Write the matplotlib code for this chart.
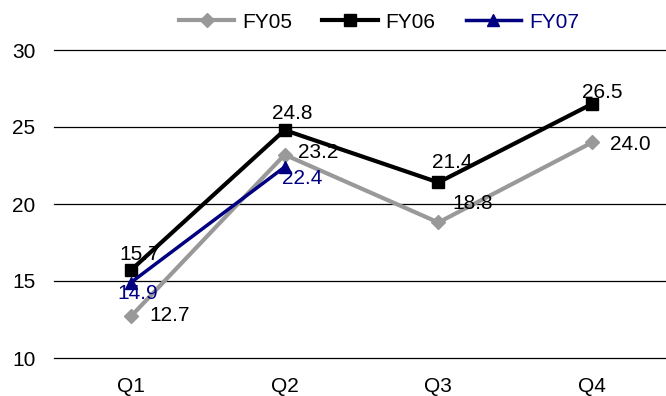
import matplotlib.pyplot as plt

plt.rcParams["font.family"] = ["Liberation Sans", "DejaVu Sans"]

quarters = ["Q1", "Q2", "Q3", "Q4"]
fy05 = [12.7, 23.2, 18.8, 24.0]
fy06 = [15.7, 24.8, 21.4, 26.5]
fy07 = [14.9, 22.4]
y_ticks = [10, 15, 20, 25, 30]

# label nudges in pixels (dx right, dy down) from each point
fy05_off = [(39, -3), (34, -4), (34, -21), (38, 0)]
fy06_off = [(9, -18), (8, -19), (14, -22), (10, -13)]
fy07_off = [(7, 9), (18, 9)]

FS = 15

fig = plt.figure(figsize=(6.66, 3.96), dpi=100)
ax = fig.add_axes([54 / 666, 38 / 396, 615 / 666, 308 / 396])

x = list(range(len(quarters)))
ax.plot(x, fy05, color="#999999", lw=3, marker="D", ms=7.5, label="FY05", zorder=3)
ax.plot(x, fy06, color="black", lw=3, marker="s", ms=8.5, label="FY06", zorder=4)
ax.plot(x[:len(fy07)], fy07, color="#000080", lw=2.5, marker="^", ms=9, label="FY07", zorder=5)


def put_labels(values, offsets, color):
    for i, (v, (dx, dy)) in enumerate(zip(values, offsets)):
        ax.annotate(f"{v:.1f}", (i, v), xytext=(dx, -(dy + 2)), textcoords="offset pixels",
                    ha="center", va="center", fontsize=FS, color=color, zorder=6)


put_labels(fy05, fy05_off, "black")
put_labels(fy06, fy06_off, "black")
put_labels(fy07, fy07_off, "#000080")

ax.set_xlim(-0.5, 3.5)
ax.set_ylim(10, 30)
ax.set_yticks(y_ticks)
ax.set_xticks(x)
ax.set_xticklabels(quarters)
ax.grid(axis="y", color="black", lw=0.9)
for g in ax.get_ygridlines():
    g.set_clip_on(False)
ax.set_axisbelow(True)
for s in ax.spines.values():
    s.set_visible(False)
ax.tick_params(length=0, labelsize=FS)
ax.tick_params(axis="y", pad=13.5)
ax.tick_params(axis="x", pad=13.5)

leg = fig.legend(loc="center", bbox_to_anchor=(379 / 666, 1 - 22 / 396), ncol=3,
                 frameon=False, fontsize=FS, handlelength=2.65, columnspacing=1.45,
                 handletextpad=0.38)
for t, h in zip(leg.get_texts(), ax.get_lines()):
    t.set_color("#000080" if h.get_label() == "FY07" else "black")

fig.savefig("out.png", dpi=100)
